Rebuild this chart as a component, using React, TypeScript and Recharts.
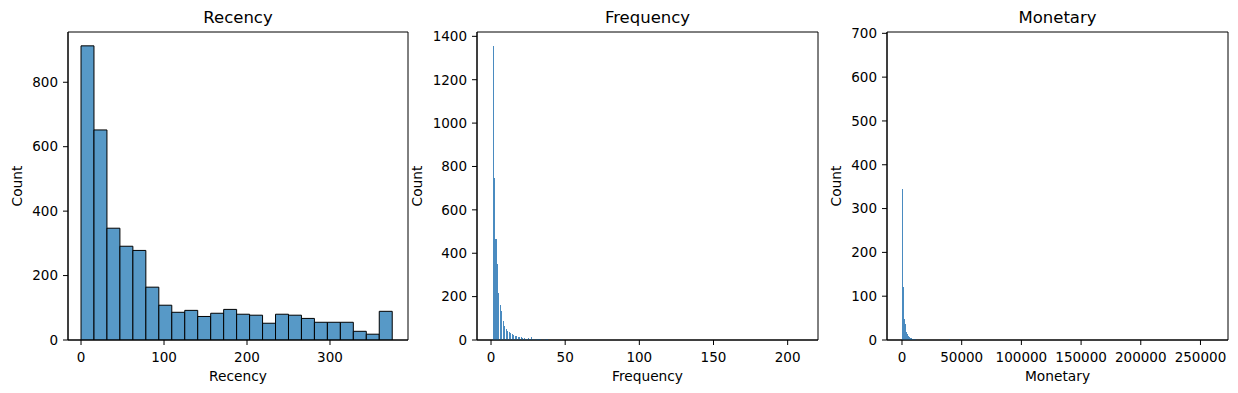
import { BarChart, Bar, XAxis, YAxis, ReferenceArea } from "recharts";

const FONT = "'DejaVu Sans', sans-serif";

// Recency: 24 equal-width bins starting at 0
const recencyBinWidth = 15.625;
const recencyCounts = [
  913, 652, 347, 291, 278, 164, 108, 86, 92, 73, 83, 95, 80, 77, 52, 80, 77, 67,
  55, 55, 55, 27, 18, 89,
];
const recencyTicks = [0, 100, 200, 300];
const recencyCountTicks = [0, 200, 400, 600, 800];

// Frequency: one narrow bin per purchase count
const frequencyBinWidth = 0.7;
const frequencyValues = [
  1, 2, 3, 4, 5, 6, 7, 8, 9, 10, 11, 12, 13, 14, 15, 16, 17, 18, 19, 20, 21, 22,
  23, 24, 25, 26, 27, 28, 29, 30, 31, 32, 33, 34, 35, 36, 37, 38, 39, 40, 41, 43,
  44, 45, 47, 50, 51, 55, 57, 60, 62, 63, 73, 86, 91, 97, 100, 124, 132, 199, 210,
];
const frequencyCounts = [
  1357, 748, 466, 351, 217, 162, 134, 88, 65, 51, 42, 36, 30, 26, 21, 18, 20, 12,
  15, 15, 11, 7, 6, 6, 11, 5, 12, 4, 3, 6, 6, 3, 6, 2, 2, 3, 6, 6, 2, 1, 2, 2, 1,
  1, 6, 1, 1, 1, 1, 1, 1, 1, 1, 1, 1, 1, 1, 1, 1, 1, 1,
];
const frequencyTicks = [0, 50, 100, 150, 200];
const frequencyCountTicks = [0, 200, 400, 600, 800, 1000, 1200, 1400];

// Monetary: bins about one pixel wide (only non-empty bins listed)
const monetaryBinWidth = 837.6;
const monetaryBinStarts = [
  0, 837.6, 1675.2, 2512.8, 3350.4, 4188, 5025.6, 5863.2, 6700.8, 7538.4, 8376,
  9213.6, 10051.2, 10888.8, 16752, 39367.2, 51093.6, 61144.8, 168357.6, 259656,
];
const monetaryCounts = [
  345, 121, 48, 37, 18, 14, 10, 7, 4, 4, 3, 3, 3, 3, 3, 2, 1, 1, 1, 1,
];
const monetaryTicks = [0, 50000, 100000, 150000, 200000, 250000];
const monetaryCountTicks = [0, 100, 200, 300, 400, 500, 600, 700];

const recencyData = recencyCounts.map((count, i) => ({
  x: (i + 0.5) * recencyBinWidth,
  count,
}));
const frequencyData = frequencyValues.map((v, i) => ({
  x: v + 0.5,
  count: frequencyCounts[i],
}));
const monetaryData = monetaryBinStarts.map((v, i) => ({
  x: v + monetaryBinWidth / 2,
  count: monetaryCounts[i],
}));

type Bin = { x: number; count: number };

type HistProps = {
  left: number;
  axisWidth: number;
  labelOffset: number;
  title: string;
  xLabel: string;
  data: Bin[];
  binWidth: number;
  xDomain: [number, number];
  xTicks: number[];
  yDomain: [number, number];
  yTicks: number[];
  fill: string;
  stroke?: string;
  crisp?: boolean;
};

const tickStyle = { fill: "#000", fontSize: 13.5, fontFamily: FONT };

function Histogram(p: HistProps) {
  const width = 410;
  const height = 388;
  const marginRight = 2;
  const plotWidth = width - p.axisWidth - marginRight;
  const barSize =
    ((p.binWidth * plotWidth) / (p.xDomain[1] - p.xDomain[0])) * 0.999;

  return (
    <div style={{ position: "absolute", left: p.left, top: 0, width, height }}>
      <div
        style={{
          position: "absolute",
          left: p.axisWidth,
          width: plotWidth,
          top: 10,
          textAlign: "center",
          fontFamily: FONT,
          fontSize: 16.5,
          lineHeight: 1,
          color: "#000",
        }}
      >
        {p.title}
      </div>
      <BarChart
        width={width}
        height={height}
        data={p.data}
        margin={{ top: 32, right: marginRight, bottom: 0, left: 0 }}
      >
        <XAxis
          dataKey="x"
          type="number"
          domain={p.xDomain}
          ticks={p.xTicks}
          interval={0}
          allowDataOverflow
          height={48}
          tickSize={5}
          tickMargin={7}
          tick={tickStyle}
          stroke="#000"
          label={{
            value: p.xLabel,
            position: "insideBottom",
            offset: 7,
            fill: "#000",
            fontSize: 13.75,
            fontFamily: FONT,
          }}
        />
        <YAxis
          type="number"
          domain={p.yDomain}
          ticks={p.yTicks}
          interval={0}
          allowDataOverflow
          width={p.axisWidth}
          tickSize={5}
          tickMargin={5}
          tick={tickStyle}
          stroke="#000"
          label={{
            value: "Count",
            angle: -90,
            position: "insideLeft",
            offset: p.labelOffset,
            fill: "#000",
            fontSize: 13.75,
            fontFamily: FONT,
            style: { textAnchor: "middle" },
          }}
        />
        <Bar
          dataKey="count"
          fill={p.fill}
          stroke={p.stroke}
          strokeWidth={p.stroke ? 1 : 0}
          barSize={barSize}
          shapeRendering={p.crisp ? "crispEdges" : undefined}
          isAnimationActive={false}
        />
        <ReferenceArea
          x1={p.xDomain[0]}
          x2={p.xDomain[1]}
          y1={p.yDomain[0]}
          y2={p.yDomain[1]}
          fill="none"
          stroke="#000"
          strokeWidth={1}
          ifOverflow="visible"
        />
      </BarChart>
    </div>
  );
}

export default function App() {
  return (
    <div
      style={{
        position: "absolute",
        left: 0,
        top: 0,
        width: 1238,
        height: 393,
        background: "#fff",
      }}
    >
      <Histogram
        left={0}
        axisWidth={68}
        labelOffset={17}
        title="Recency"
        xLabel="Recency"
        data={recencyData}
        binWidth={recencyBinWidth}
        xDomain={[-15.7, 394]}
        xTicks={recencyTicks}
        yDomain={[0, 956]}
        yTicks={recencyCountTicks}
        fill="#5799c7"
        stroke="#000"
      />
      <Histogram
        left={410}
        axisWidth={67}
        labelOffset={7}
        title="Frequency"
        xLabel="Frequency"
        data={frequencyData}
        binWidth={frequencyBinWidth}
        xDomain={[-9.45, 220.45]}
        xTicks={frequencyTicks}
        yDomain={[0, 1420]}
        yTicks={frequencyCountTicks}
        fill="#4a8bc0"
        crisp
      />
      <Histogram
        left={820}
        axisWidth={67}
        labelOffset={16}
        title="Monetary"
        xLabel="Monetary"
        data={monetaryData}
        binWidth={monetaryBinWidth}
        xDomain={[-12564, 273059]}
        xTicks={monetaryTicks}
        yDomain={[0, 703]}
        yTicks={monetaryCountTicks}
        fill="#4a8bc0"
        crisp
      />
    </div>
  );
}
